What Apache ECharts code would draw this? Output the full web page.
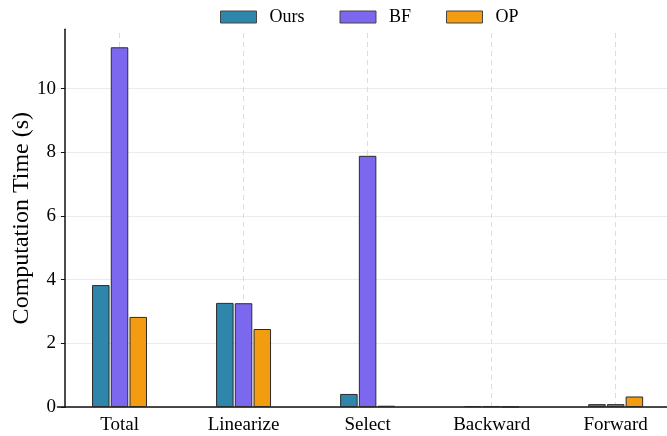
<!DOCTYPE html>
<html>
<head>
<meta charset="utf-8">
<script src="https://cdn.jsdelivr.net/npm/echarts@6/dist/echarts.min.js"></script>
<style>
  html, body { margin: 0; padding: 0; background: #fff; }
  #chart { width: 667px; height: 436px; }
</style>
</head>
<body>
<div id="chart"></div>
<script>
// Stage names along the x axis
const categories = ['Total', 'Linearize', 'Select', 'Backward', 'Forward'];

// Computation time per stage, in seconds
const oursTimes = [3.83, 3.27, 0.41, 0.03, 0.09];
const bfTimes   = [11.3, 3.26, 7.89, 0.03, 0.09];
const opTimes   = [2.83, 2.45, 0.04, 0.005, 0.33];

const yTicks = [0, 2, 4, 6, 8, 10];

const seriesNames = ['Ours', 'BF', 'OP'];
const seriesColors = ['#2E86AB', '#7B68EE', '#F39C12'];

const FONT = '"Liberation Serif", "DejaVu Serif", serif';

const chart = echarts.init(document.getElementById('chart'));

function barSeries(name, data, color) {
  return {
    name: name,
    type: 'bar',
    data: data,
    barWidth: 17.5,
    barGap: '7%',
    itemStyle: { color: color, borderColor: '#2b2b2b', borderWidth: 1 },
    emphasis: { disabled: true },
    z: 3
  };
}

chart.setOption({
  animation: false,
  backgroundColor: '#ffffff',
  textStyle: { fontFamily: FONT },
  legend: {
    data: seriesNames,
    left: 220,
    top: 8,
    padding: 0,
    itemWidth: 36,
    itemHeight: 12,
    itemGap: 35,
    icon: 'rect',
    itemStyle: { borderColor: '#444', borderWidth: 1 },
    textStyle: { fontFamily: FONT, fontSize: 18, color: '#000', padding: [0, 0, 0, 8] }
  },
  grid: {
    left: 57.5, right: -10.7, top: 29.3, bottom: 29,
    containLabel: false,
    outerBoundsMode: 'none'
  },
  xAxis: {
    type: 'category',
    data: categories,
    boundaryGap: true,
    axisLine: { lineStyle: { color: '#111', width: 1.5 } },
    axisTick: { alignWithLabel: true, length: 4, lineStyle: { color: '#111', width: 1 } },
    axisLabel: { fontFamily: FONT, fontSize: 19, color: '#000', margin: 9 },
    splitLine: { show: false }
  },
  yAxis: {
    type: 'value',
    min: 0,
    max: 11.865,
    interval: 2,
    offset: -7.5,
    name: 'Computation Time (s)',
    nameLocation: 'middle',
    nameGap: 31,
    nameMoveOverlap: false,
    nameTextStyle: { fontFamily: FONT, fontSize: 24, color: '#000' },
    axisLine: { show: true, lineStyle: { color: '#111', width: 1.5 } },
    axisTick: { show: true, length: 4, customValues: yTicks, lineStyle: { color: '#111', width: 1 } },
    axisLabel: {
      fontFamily: FONT, fontSize: 19, color: '#000', margin: 9,
      customValues: yTicks
    },
    splitLine: { show: true, customValues: yTicks, lineStyle: { color: '#ebebeb', width: 1 } }
  },
  series: [
    // vertical dashed guides at each stage, kept beneath the bars
    {
      type: 'line',
      data: [],
      silent: true,
      z: 1,
      markLine: {
        silent: true,
        z: 1,
        symbol: 'none',
        label: { show: false },
        lineStyle: { type: [5, 4], color: '#dddddd', width: 1 },
        data: categories.map(c => ({ xAxis: c }))
      }
    },
    barSeries(seriesNames[0], oursTimes, seriesColors[0]),
    barSeries(seriesNames[1], bfTimes, seriesColors[1]),
    barSeries(seriesNames[2], opTimes, seriesColors[2])
  ]
});
</script>
</body>
</html>
